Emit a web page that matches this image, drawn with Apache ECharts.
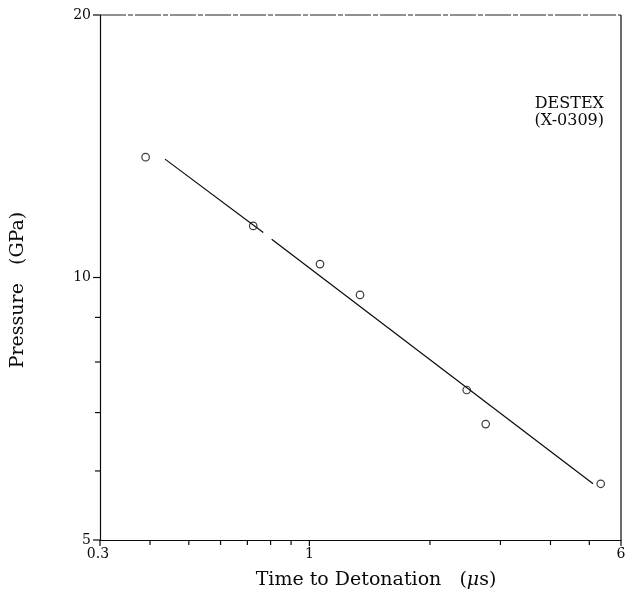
<!DOCTYPE html>
<html>
<head>
<meta charset="utf-8">
<script src="https://cdn.jsdelivr.net/npm/echarts@6/dist/echarts.min.js"></script>
<style>
html,body{margin:0;padding:0;background:#fff;}
#chart{width:625px;height:606px;}
</style>
</head>
<body>
<div id="chart"></div>
<script>
// ---- data ----
const timeUs = [0.390, 0.724, 1.063, 1.338, 2.471, 2.756, 5.34];
const pressureGPa = [13.74, 11.46, 10.36, 9.55, 7.43, 6.79, 5.80];
const fitSeg1Time = [0.436, 0.767];
const fitSeg1Pressure = [13.67, 11.26];
const fitSeg2Time = [0.805, 5.11];
const fitSeg2Pressure = [11.06, 5.80];
const xMin = 0.3, xMax = 6, yMin = 5, yMax = 20;
const xMajorTicks = [0.3, 1, 6];
const xTickLabels = ['0.3', '1', '6'];
const xMinorTicks = [0.4, 0.5, 0.6, 0.7, 0.8, 0.9, 2, 3, 4, 5];
const yMajorTicks = [5, 10, 20];
const yTickLabels = ['5', '10', '20'];
const yMinorTicks = [6, 7, 8, 9];
const xTitleMain = 'Time to Detonation   (';
const xTitleUnitMu = 'μ';
const xTitleUnitRest = 's)';
const yTitle = 'Pressure   (GPa)';
const noteLines = ['DESTEX', '(X-0309)'];

const SERIF = '"DejaVu Serif", "Liberation Serif", serif';
const INK = '#0a0a0a';

function pairs(xs, ys) { return xs.map((v, i) => [v, ys[i]]); }

function xTick(len) {
  return function (params, api) {
    const p = api.coord([api.value(0), api.value(1)]);
    return { type: 'line', shape: { x1: p[0], y1: p[1], x2: p[0], y2: p[1] + len },
      style: { stroke: INK, lineWidth: 1.2 } };
  };
}
function yTick(len) {
  return function (params, api) {
    const p = api.coord([api.value(0), api.value(1)]);
    return { type: 'line', shape: { x1: p[0], y1: p[1], x2: p[0] - len, y2: p[1] },
      style: { stroke: INK, lineWidth: 1.2 } };
  };
}

const chart = echarts.init(document.getElementById('chart'), null, { renderer: 'canvas' });
chart.setOption({
  animation: false,
  backgroundColor: '#fff',
  grid: { left: 100, right: 4, top: 15, bottom: 66 },
  xAxis: {
    type: 'log', min: xMin, max: xMax, logBase: 10,
    axisLine: { show: true, lineStyle: { color: INK, width: 1.2 } },
    axisTick: { show: false }, axisLabel: { show: false }, splitLine: { show: false }
  },
  yAxis: {
    type: 'log', min: yMin, max: yMax, logBase: 10,
    axisLine: { show: true, lineStyle: { color: INK, width: 1.2 } },
    axisTick: { show: false }, axisLabel: { show: false }, splitLine: { show: false }
  },
  graphic: [
    { type: 'text', x: 376, y: 580,
      style: { text: '{a|' + xTitleMain + '}{m|' + xTitleUnitMu + '}{a|' + xTitleUnitRest + '}',
        align: 'center', verticalAlign: 'middle',
        rich: {
          a: { font: '19px ' + SERIF, fill: INK },
          m: { font: 'italic 19px ' + SERIF, fill: INK }
        } } },
    { type: 'text', x: 18, y: 290, rotation: Math.PI / 2,
      style: { text: yTitle, font: '19px ' + SERIF, fill: INK, align: 'center', verticalAlign: 'middle' } },
    { type: 'text', x: 604, y: 95,
      style: { text: noteLines.join('\n'), font: '16px ' + SERIF, fill: INK, align: 'right', verticalAlign: 'top', lineHeight: 17 } }
  ],
  series: [
    { // top border (broken scan line) and right border
      type: 'custom', silent: true, data: [[xMin, yMax]],
      renderItem: function (params, api) {
        const a = api.coord([xMin, yMax]), b = api.coord([xMax, yMax]);
        const r = api.coord([xMax, yMin]);
        return { type: 'group', children: [
          { type: 'line', shape: { x1: a[0], y1: a[1], x2: b[0], y2: b[1] },
            style: { stroke: '#222', lineWidth: 1.2, lineDash: [26, 2, 5, 2] } },
          { type: 'line', shape: { x1: b[0], y1: b[1], x2: r[0], y2: r[1] },
            style: { stroke: INK, lineWidth: 1.2 } }
        ] };
      }
    },
    { type: 'custom', silent: true, data: xMajorTicks.map(v => [v, yMin]), renderItem: xTick(6) },
    { type: 'custom', silent: true, data: xMinorTicks.map(v => [v, yMin]), renderItem: xTick(5) },
    { type: 'custom', silent: true, data: yMajorTicks.map(v => [xMin, v]), renderItem: yTick(7) },
    { type: 'custom', silent: true, data: yMinorTicks.map(v => [xMin, v]), renderItem: yTick(5) },
    { // x tick labels
      type: 'custom', silent: true, data: xMajorTicks.map(v => [v, yMin]),
      renderItem: function (params, api) {
        const p = api.coord([api.value(0), api.value(1)]);
        return { type: 'text', x: p[0] - (params.dataIndex === 0 ? 2 : 0), y: p[1] + 7,
          style: { text: xTickLabels[params.dataIndex], font: '14px ' + SERIF, fill: INK, align: 'center', verticalAlign: 'top' } };
      }
    },
    { // y tick labels
      type: 'custom', silent: true, data: yMajorTicks.map(v => [xMin, v]),
      renderItem: function (params, api) {
        const p = api.coord([api.value(0), api.value(1)]);
        return { type: 'text', x: p[0] - 9, y: p[1],
          style: { text: yTickLabels[params.dataIndex], font: '14px ' + SERIF, fill: INK, align: 'right', verticalAlign: 'middle' } };
      }
    },
    { type: 'line', data: pairs(fitSeg1Time, fitSeg1Pressure), showSymbol: false, symbol: 'none',
      lineStyle: { color: INK, width: 1.2 } },
    { type: 'line', data: pairs(fitSeg2Time, fitSeg2Pressure), showSymbol: false, symbol: 'none',
      lineStyle: { color: INK, width: 1.2 } },
    { type: 'scatter', data: pairs(timeUs, pressureGPa), symbol: 'circle', symbolSize: 7.5,
      itemStyle: { color: 'rgba(255,255,255,0)', borderColor: INK, borderWidth: 1.2 } }
  ]
});
</script>
</body>
</html>
